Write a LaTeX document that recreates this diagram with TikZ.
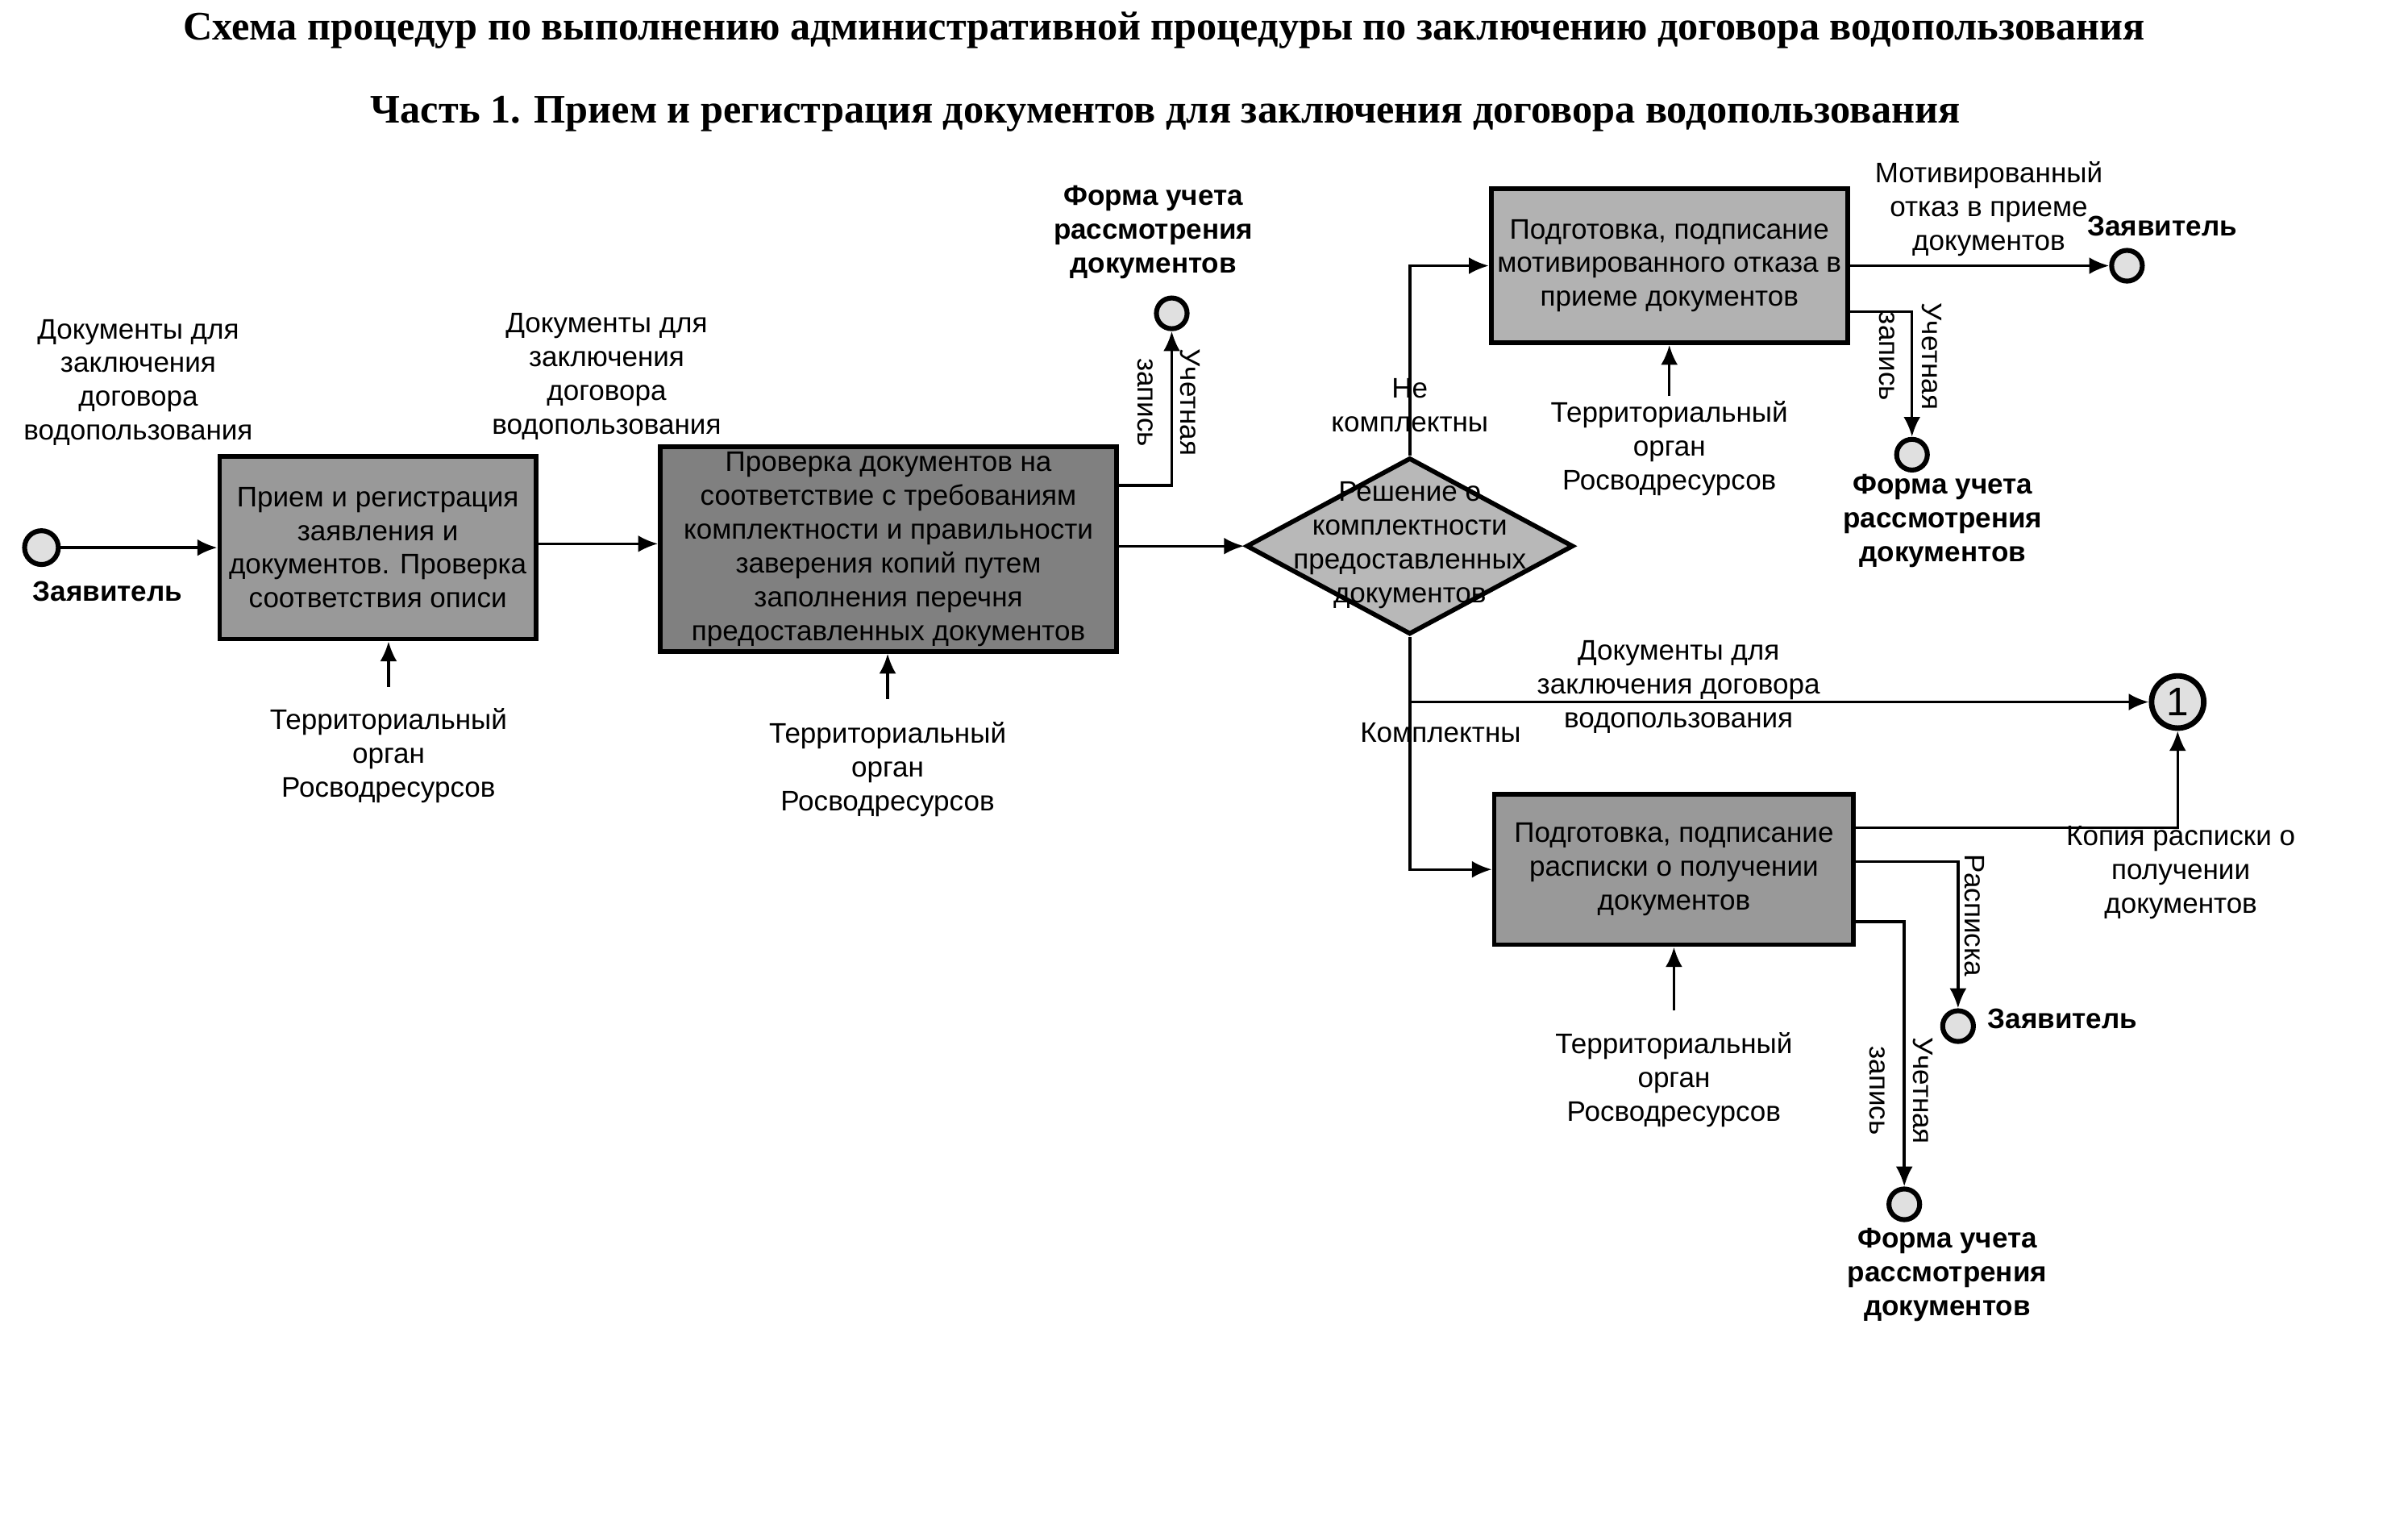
\documentclass[tikz,border=0pt]{standalone}
\usepackage{fontspec}
\setmainfont{Liberation Serif}
\newfontfamily\arialf{Liberation Sans}
\usetikzlibrary{arrows.meta,shapes.geometric}
\newcommand\lblf{\arialf\fontsize{9.2}{11}\selectfont}
\newcommand\blblf{\arialf\bfseries\fontsize{9.2}{11}\selectfont}
\newcommand\rotf{\arialf\fontsize{9.2}{14}\selectfont}
\newcommand\titf{\rmfamily\bfseries\fontsize{13.2}{16}\selectfont}
\begin{document}
\begin{tikzpicture}[x=0.5pt,y=-0.5pt,
  lbl/.style={font=\lblf, align=center, inner sep=0},
  blbl/.style={font=\blblf, align=center, inner sep=0},
  rlbl/.style={font=\rotf, align=center, inner sep=0, rotate=-90},
  proc/.style={draw, line width=1.5pt, font=\lblf, align=center, inner sep=0},
  ev/.style={circle, draw, line width=1.6pt, fill=black!12, minimum size=10pt, inner sep=0},
  dec/.style={diamond, draw, line width=1.5pt, fill=black!28, inner sep=0, minimum width=106.5pt, minimum height=57.5pt},
  arr/.style={-{Latex[length=6.5pt,width=5.5pt]}, line width=0.9pt},
  ln/.style={line width=0.9pt}]
\useasboundingbox (0,0) rectangle (1568,989);
% titles
\node[font=\titf] (tit1) at (758,20) {Схема процедур по выполнению административной процедуры по заключению договора водопользования};
\node[font=\titf] (tit2) at (759,74) {Часть 1. Прием и регистрация документов для заключения договора водопользования};
% process boxes
\node[proc, fill=black!40, minimum width=103pt, minimum height=59.5pt] (b1) at (246,356.5)
 {Прием и регистрация\\заявления и\\документов. Проверка\\соответствия описи};
\node[proc, fill=black!50, minimum width=148.5pt, minimum height=66.5pt] (b2) at (578.5,357.5)
 {Проверка документов на\\соответствие с требованиям\\комплектности и правильности\\заверения копий путем\\заполнения перечня\\предоставленных документов};
\node[proc, fill=black!30, minimum width=116pt, minimum height=50pt] (b3) at (1087,173)
 {Подготовка, подписание\\мотивированного отказа в\\приеме документов};
\node[proc, fill=black!40, minimum width=117pt, minimum height=49pt] (b4) at (1090,566)
 {Подготовка, подписание\\расписки о получении\\документов};
\node[dec] (d) at (918,355.5) {};
\node[lbl] (dt) at (918,355) {Решение о\\комплектности\\предоставленных\\документов};
% events
\node[ev, minimum size=11pt] (s0) at (27,356.5) {};
\node[ev] (f1) at (763,204) {};
\node[ev] (z1) at (1385,173) {};
\node[ev] (f2) at (1245,296) {};
\node[ev, minimum size=17pt, line width=1.8pt, font=\arialf\fontsize{13}{13}\selectfont] (c1) at (1418,457) {1};
\node[ev] (z2) at (1275,668) {};
\node[ev] (f3) at (1240,784) {};
% labels
\node[lbl] (l1) at (90,249) {Документы для\\заключения\\договора\\водопользования};
\node[blbl] (s0l) at (70,385) {Заявитель};
\node[lbl] (l2) at (395,245) {Документы для\\заключения\\договора\\водопользования};
\node[lbl] (t1) at (253,492) {Территориальный\\орган\\Росводресурсов};
\node[lbl] (t2) at (578,501) {Территориальный\\орган\\Росводресурсов};
\node[blbl] (f1l) at (751,151) {Форма учета\\рассмотрения\\документов};
\node[rlbl] (f1r) at (761,262) {Учетная\\запись};
\node[lbl] (ne) at (918,264) {Не\\комплектны};
\node[lbl] (t3) at (1087,292) {Территориальный\\орган\\Росводресурсов};
\node[lbl] (mo) at (1295,136) {Мотивированный\\отказ в приеме\\документов};
\node[blbl] (z1l) at (1408,147) {Заявитель};
\node[rlbl] (f2r) at (1244,232) {Учетная\\запись};
\node[blbl] (f2l) at (1265,339) {Форма учета\\рассмотрения\\документов};
\node[lbl] (l3) at (1093,447) {Документы для\\заключения договора\\водопользования};
\node[lbl] (ko) at (938,477) {Комплектны};
\node[lbl] (kop) at (1420,568) {Копия расписки о\\получении\\документов};
\node[rlbl] (ras) at (1286,596) {Расписка};
\node[blbl] (z2l) at (1343,663) {Заявитель};
\node[lbl] (t4) at (1090,703) {Территориальный\\орган\\Росводресурсов};
\node[rlbl] (f3r) at (1238,710) {Учетная\\запись};
\node[blbl] (f3l) at (1268,830) {Форма учета\\рассмотрения\\документов};
% mechanism coordinates
\coordinate (m1) at (253,447);
\coordinate (m2) at (578,455);
\coordinate (m3) at (1087,258);
\coordinate (m4) at (1090,658);
\coordinate (j) at (918,457);
% connectors
\draw[arr] (s0) -- (b1.west |- s0);
\draw[arr] (m1) -- (b1.south -| m1);
\draw[arr] (b1.east |- 0,354) -- (b2.west |- 0,354);
\draw[arr] (m2) -- (b2.south -| m2);
\draw[arr] (b2.east |- 0,316) -| (f1.south);
\draw[arr] (b2.east |- 0,355.5) -- (d.west);
\draw[arr] (d.north) |- (b3.west);
\draw[arr] (m3) -- (b3.south -| m3);
\draw[arr] (b3.east) -- (z1.west);
\draw[arr] (b3.east |- 0,203) -| (f2.north);
\draw[arr] (d.south) |- (b4.west);
\draw[arr] (j) -- (c1.west);
\draw[arr] (m4) -- (b4.south -| m4);
\draw[arr] (b4.east |- 0,539) -| (c1.south);
\draw[arr] (b4.east |- 0,561) -| (z2.north);
\draw[arr] (b4.east |- 0,600) -| (f3.north);
\end{tikzpicture}
\end{document}
